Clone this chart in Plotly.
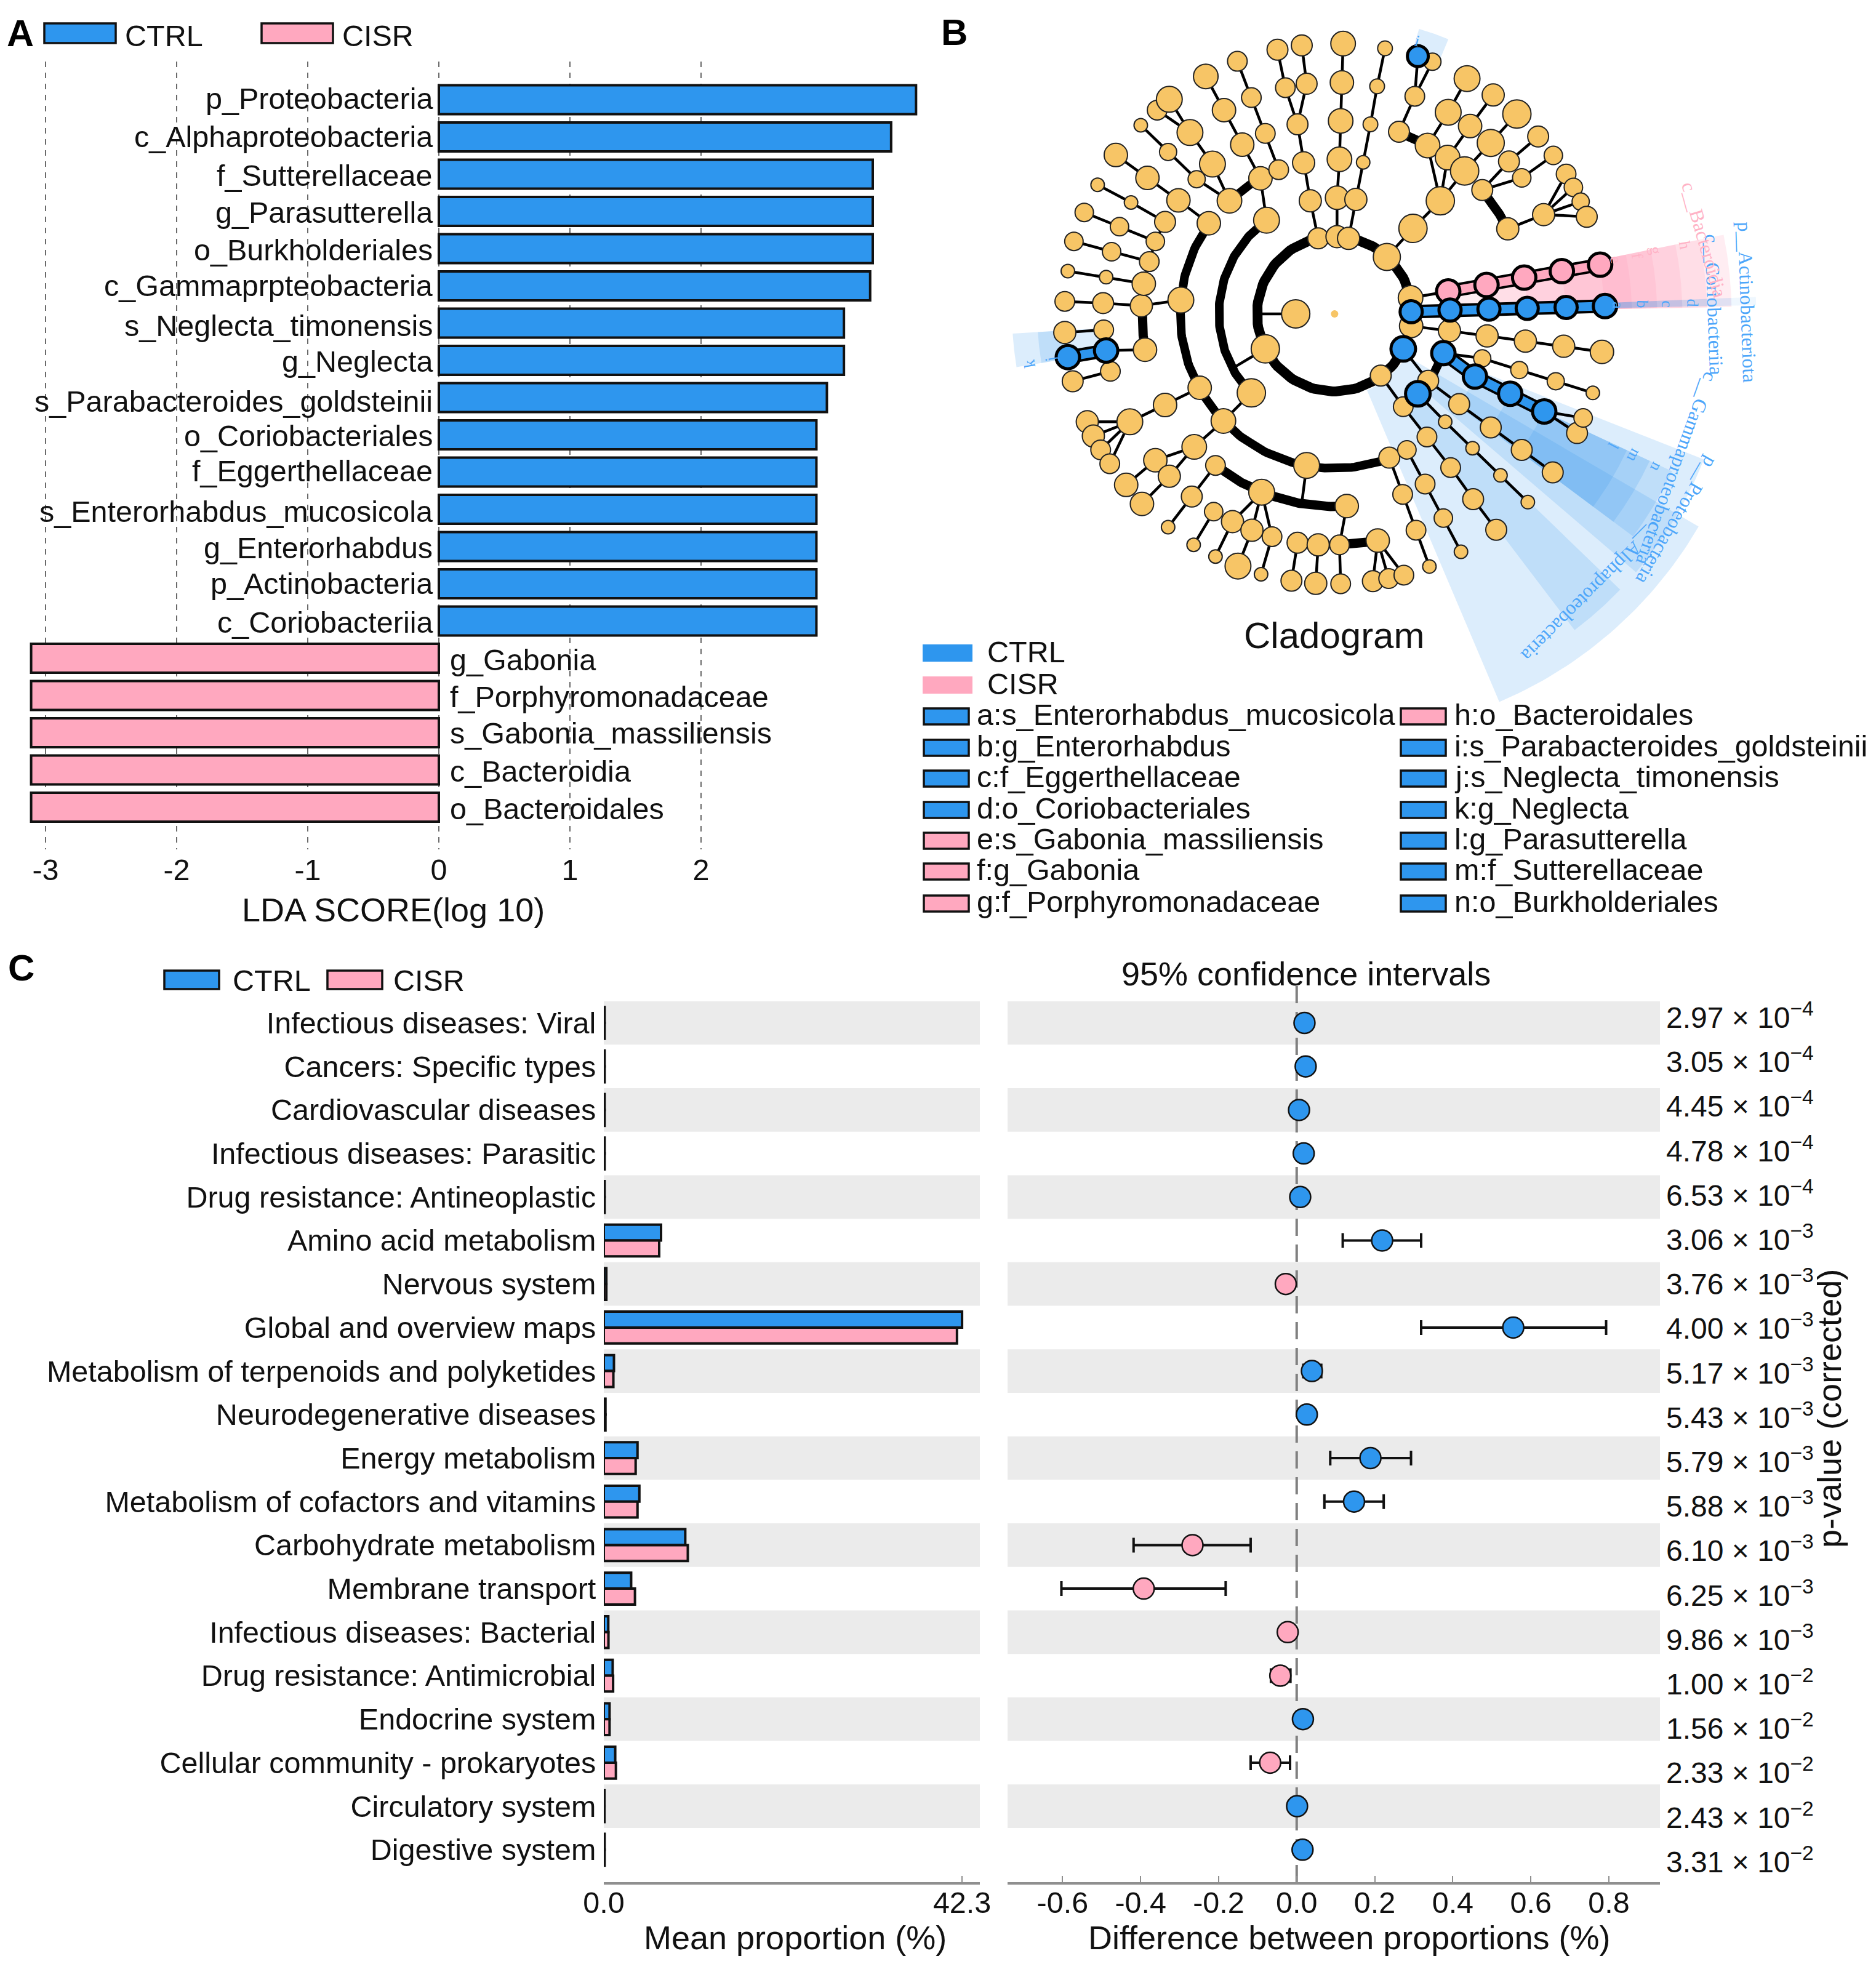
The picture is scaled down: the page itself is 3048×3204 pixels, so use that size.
import numpy as np
import plotly.graph_objects as go

W, H = 3048, 3204
BLUE = "#2E96EE"
PINK = "#FFA8BF"
GOLD = "#F7C566"
INK = "#111111"
FONT = "Liberation Sans"
SERIF = "Liberation Serif"
LABEL_BLUE = "#4DA6FA"
LABEL_PINK = "#FFB3C6"
TXT = 48.5
TITLE = 54

# ---------- Panel A data ----------
lda_names = ["p_Proteobacteria", "c_Alphaproteobacteria", "f_Sutterellaceae", "g_Parasutterella",
             "o_Burkholderiales", "c_Gammaprpteobacteria", "s_Neglecta_timonensis", "g_Neglecta",
             "s_Parabacteroides_goldsteinii", "o_Coriobacteriales", "f_Eggerthellaceae",
             "s_Enterorhabdus_mucosicola", "g_Enterorhabdus", "p_Actinobacteria", "c_Coriobacteriia",
             "g_Gabonia", "f_Porphyromonadaceae", "s_Gabonia_massiliensis", "c_Bacteroidia", "o_Bacteroidales"]
lda_scores = [3.64, 3.45, 3.31, 3.31, 3.31, 3.29, 3.09, 3.09, 2.96, 2.88, 2.88, 2.88, 2.88, 2.88, 2.88,
              -3.11, -3.11, -3.11, -3.11, -3.11]
lda_ticks = [-3, -2, -1, 0, 1, 2]
# hand-set vertical nudges of the labels, in pixels
lda_label_nudge = [-2, 0, 2, 2, 2, 0, 4, 2, 6, 2, -2, 4, 2, 0, 2, 2, 2, 0, 2, 2]

# ---------- Panel C data ----------
pathways = ["Infectious diseases: Viral", "Cancers: Specific types", "Cardiovascular diseases",
            "Infectious diseases: Parasitic", "Drug resistance: Antineoplastic", "Amino acid metabolism",
            "Nervous system", "Global and overview maps", "Metabolism of terpenoids and polyketides",
            "Neurodegenerative diseases", "Energy metabolism", "Metabolism of cofactors and vitamins",
            "Carbohydrate metabolism", "Membrane transport", "Infectious diseases: Bacterial",
            "Drug resistance: Antimicrobial", "Endocrine system", "Cellular community - prokaryotes",
            "Circulatory system", "Digestive system"]
mean_ctrl = [0.1, 0.1, 0.1, 0.1, 0.1, 6.76, 0.3, 42.3, 1.2, 0.2, 3.98, 4.2, 9.62, 3.23, 0.53, 1.05, 0.68, 1.35, 0.08, 0.1]
mean_cisr = [0.1, 0.1, 0.1, 0.1, 0.1, 6.54, 0.3, 41.7, 1.13, 0.2, 3.76, 3.98, 9.92, 3.68, 0.55, 1.1, 0.68, 1.43, 0.08, 0.1]
diff = [0.02, 0.023, 0.006, 0.018, 0.009, 0.219, -0.028, 0.555, 0.039, 0.026, 0.189, 0.147, -0.267, -0.392,
        -0.023, -0.042, 0.016, -0.068, 0.001, 0.015]
ci_low = [0.012, 0.015, -0.002, 0.01, 0.001, 0.118, -0.04, 0.319, 0.017, 0.016, 0.086, 0.071, -0.418, -0.603,
          -0.036, -0.066, 0.006, -0.118, -0.008, 0.005]
ci_high = [0.028, 0.031, 0.014, 0.026, 0.017, 0.319, -0.016, 0.793, 0.063, 0.036, 0.293, 0.223, -0.118, -0.182,
           -0.01, -0.016, 0.026, -0.017, 0.01, 0.025]
pvals = ["2.97", "3.05", "4.45", "4.78", "6.53", "3.06", "3.76", "4.00", "5.17", "5.43",
         "5.79", "5.88", "6.10", "6.25", "9.86", "1.00", "1.56", "2.33", "2.43", "3.31"]
pexps = ["4", "4", "4", "4", "4", "3", "3", "3", "3", "3", "3", "3", "3", "3", "3", "2", "2", "2", "2", "2"]
diff_ticks = [-0.6, -0.4, -0.2, 0.0, 0.2, 0.4, 0.6, 0.8]

# ---------- Panel B data: (x, y, diameter), outer node first ----------
gold_chains = [
    [(583,115,34),(596,203,32),(616,288,34),(626,377,36),(637,465,36),(650,552,34)],
    [(623,105,34),(631,194,34),(616,288,34)],
    [(691,101,40),(689,191,38),(687,280,40),(685,369,40),(681,458,38),(681,548,36)],
    [(760,112,24),(747,200,24),(736,288,24),(724,376,22),(712,462,36),(700,552,36)],
    [(838,143,28),(809,223,32),(783,305,34)],
    [(895,182,42),(864,260,42),(830,337,40),(851,465,46)],
    [(938,220,36),(900,292,38),(863,365,40),(851,465,46)],
    [(977,264,46),(934,331,44),(891,396,46),(851,465,46)],
    [(1012,316,34),(964,374,34),(920,440,34)],
    [(1037,360,30),(985,412,30),(920,440,34)],
    [(851,465,46),(806,529,46),(763,595,44)],
    [(1058,403,32),(1021,497,36)], [(1070,434,30),(1021,497,36)],
    [(1082,467,28),(1021,497,36)], [(1092,502,34),(1021,497,36)],
    [(1021,497,36),(962,530,36)],
    [(1117,815,38),(1054,802,36),(991,790,36),(928,778,36),(866,766,36),(803,755,38)],
    [(1102,910,22),(1041,883,28),(981,857,28),(920,830,28),(856,818,2)],
    [(1086,968,30),(1022,953,2)], [(1076,1003,34),(1022,953,2)],
    [(1036,1094,34),(985,1042,34),(934,990,34),(882,936,34),(831,882,34),(790,808,2)],
    [(943,1227,34),(905,1156,34),(868,1083,32),(829,1012,32),(790,942,32),(753,870,34)],
    [(995,1163,22),(950,1101,22),(904,1038,22),(859,977,22),(814,912,2)],
    [(885,1278,22),(856,1200,30),(826,1121,32),(796,1042,30),(767,1060,34)],
    [(833,1312,22),(811,1228,32),(789,1145,32),(767,1060,34)],
    [(606,1345,34),(616,1257,34)], [(646,1351,36),(650,1262,36)],
    [(687,1352,32),(685,1262,32),(697,1172,38)],
    [(740,1346,34),(748,1252,38)], [(766,1340,32),(748,1252,38)], [(791,1332,32),(748,1252,38)],
    [(518,1311,42),(541,1228,36),(557,1140,42)],
    [(556,1330,22),(574,1243,32),(557,1140,42)],
    [(481,1289,22),(509,1208,36),(557,1140,42)],
    [(445,1262,22),(478,1185,30)],
    [(403,1221,22),(442,1150,34),(481,1078,32)],
    [(360,1167,38),(405,1103,36),(446,1035,40),(494,975,40)],
    [(334,1123,38),(382,1066,38),(446,1035,40)],
    [(270,977,36),(340,977,42)], [(280,1010,36),(340,977,42)],
    [(292,1042,32),(340,977,42)], [(307,1074,32),(340,977,42)],
    [(340,977,42),(398,938,38),(455,898,38)],
    [(540,910,46),(494,975,40)],
    [(233,698,32),(296,702,34),(359,708,36),(424,695,42)],
    [(398,514,34),(382,559,30),(372,606,32),(363,657,38),(359,708,36)],
    [(238,628,22),(301,642,22),(363,657,38)],
    [(248,559,30),(310,583,30),(372,606,32)],
    [(265,492,30),(323,525,30),(382,559,30)],
    [(287,428,22),(342,469,22),(398,514,34)],
    [(317,359,38),(369,412,38),(420,464,38),(470,517,38)],
    [(358,290,22),(403,352,28),(450,415,28),(504,465,40)],
    [(405,230,42),(439,307,42),(476,380,42),(504,465,40)],
    [(385,255,32),(439,307,42)],
    [(465,177,40),(495,255,38),(525,335,38),(555,413,38),(565,510,42)],
    [(517,142,32),(540,226,32),(563,309,32),(585,393,32),(555,413,38)],
    [(233,770,36),(297,764,32),(301,812,2)],
    [(246,883,34),(308,860,32),(301,812,2)],
    [(301,812,2),(365,810,38)],
    [(802,690,40),(864,675,2)],
    [(767,1060,34),(767,1060,34)], [(631,1078,42),(623,1165,2)],
    [(563,808,46),(515,848,2)], [(613,727,46),(553,727,2)],
    [(809,223,32),(814,130,2)],
]
blue_chains = [
    [(1122,709,38),(1058,712,36),(994,714,36),(931,716,36),(867,718,36),(803,722,36)],
    [(238,827,38),(301,812,38)],
    [(1022,953,38),(966,912,38),(908,872,38),(856,818,38)],
]
blue_single = [(814,130,34), (790,808,40), (814,912,40)]
pink_chains = [[(1114,613,38),(1051,628,38),(989,643,38),(927,660,38),(864,675,38)]]
root_node = (677, 727, 12)

# thick arcs: radius, start angle, end angle, width
arc_r = [126, 188, 251, 251, 313, 313, 313, 313, 375, 188]
arc_a0 = [-12, 234, 215.8, 227, 128, 182.4, -70.5, -40, 88.8, 20]
arc_a1 = [-333, 136.5, 69, 241, 86, 169.3, -61, -26, 79.2, 53]
arc_w = [16, 14, 14, 14, 15, 15, 15, 15, 15, 14]

# highlighted clade sectors: r0, r1, angle0, angle1, group
sector_r0 = [135, 187, 187, 250, 313, 375, 187, 250, 313, 375, 438, 125, 187, 250, 313, 375, 438, 375, 438, 438]
sector_r1 = [685, 645, 645, 605, 565, 524, 645, 605, 565, 524, 483, 685, 645, 605, 565, 524, 483, 524, 483, 483]
sector_a0 = [30.3, 21.5, 44, 25, 25, 25, -11.5, -11.5, -11.5, -11.5, -11.5, -2.3, -2.3, -2.3, -2.3, -2.3, -2.3, 170.5, 170.5, -73.5]
sector_a1 = [67, 40.6, 52.8, 36.7, 36.7, 36.7, -1, -1, -1, -1, -1, -1.2, -1.2, -1.2, -1.2, -1.2, -1.2, 176.5, 176.5, -67.5]
sector_g = ["b"]*6 + ["p"]*5 + ["a"]*6 + ["b"]*3

clade_text = ["p__Actinobacteriota", "c__Coriobacteriia", "c__Bacteroidia", "c__Gammaproteobacteria",
              "p__Proteobacteria", "c__Alphaproteobacteria"]
clade_text_x = [1356, 1302, 1285, 1240, 1240, 1100]
clade_text_y = [700, 705, 555, 1085, 1205, 1370]
clade_text_a = [88, 88, 74, 110, 120, 135]
clade_text_c = [LABEL_BLUE, LABEL_BLUE, LABEL_PINK, LABEL_BLUE, LABEL_BLUE, LABEL_BLUE]
clade_size = [32, 32, 32, 32, 32, 32]

mini_text = ["a", "b", "c", "d", "e", "f", "g", "h", "i", "j", "k", "l", "m", "n"]
mini_x = [1143, 1183, 1224, 1266, 1140, 1175, 1205, 1253, 813, 210, 175, 1135, 1170, 1207]
mini_y = [708, 705, 705, 702, 602, 592, 580, 567, 95, 832, 842, 1032, 1055, 1082]
mini_a = [92, 92, 92, 92, 80, 80, 80, 80, 15, 260, 260, 118, 118, 118]
mini_c = [LABEL_BLUE]*4 + [LABEL_PINK]*4 + [LABEL_BLUE]*6

legend_left = ["a:s_Enterorhabdus_mucosicola", "b:g_Enterorhabdus", "c:f_Eggerthellaceae", "d:o_Coriobacteriales",
               "e:s_Gabonia_massiliensis", "f:g_Gabonia", "g:f_Porphyromonadaceae"]
legend_left_c = [BLUE, BLUE, BLUE, BLUE, PINK, PINK, PINK]
legend_right = ["h:o_Bacteroidales", "i:s_Parabacteroides_goldsteinii", "j:s_Neglecta_timonensis", "k:g_Neglecta",
                "l:g_Parasutterella", "m:f_Sutterellaceae", "n:o_Burkholderiales"]
legend_right_c = [PINK, BLUE, BLUE, BLUE, BLUE, BLUE, BLUE]
legend_rows = [1164, 1215, 1265, 1316, 1366, 1416, 1468]


# ---------- helpers ----------
def px(x):
    return x / W


def py(y):
    return 1 - y / H


def pos(r, a):
    t = np.radians(a)
    return 677 + 1.0129 * r * np.cos(t), 727 + 1.4255 * r * np.sin(t)


annotations = []
shapes = []


def label(x, y, text, size=TXT, anchor="left", color=INK, angle=0, family=FONT, bold=False):
    annotations.append(dict(
        x=px(x), y=py(y), xref="paper", yref="paper", text=f"<b>{text}</b>" if bold else text,
        showarrow=False, xanchor=anchor, yanchor="middle", textangle=angle,
        font=dict(family=family, size=size, color=color), borderpad=0))


def swatch(x0, y0, x1, y1, fill, lw=3.5):
    shapes.append(dict(type="rect", xref="paper", yref="paper", x0=px(x0), x1=px(x1), y0=py(y0), y1=py(y1),
                       fillcolor=fill, line=dict(color="#111" if lw else fill, width=lw)))


fig = go.Figure()

# ---------- Panel A ----------
a_rows = list(range(len(lda_names)))
fig.add_trace(go.Bar(x=lda_scores, y=a_rows, orientation="h", width=0.78, xaxis="x", yaxis="y",
                     marker=dict(color=[BLUE if v > 0 else PINK for v in lda_scores], line=dict(color="#111", width=4)),
                     showlegend=False, hoverinfo="skip"))
for i, (n, v, dy) in enumerate(zip(lda_names, lda_scores, lda_label_nudge)):
    annotations.append(dict(x=0, y=i, xref="x", yref="y", text=n, showarrow=False,
                            xanchor="right" if v > 0 else "left", yanchor="middle",
                            xshift=-8 if v > 0 else 16, yshift=-dy, font=dict(family=FONT, size=TXT, color=INK)))

A_L, A_R = 713 - 3.13 * 213, 713 + 3.66 * 213
A_T, A_B = 100, 1380
row0, pitch = 162, 60.5

# ---------- Panel C ----------
c_rows = list(range(len(pathways)))
fig.add_trace(go.Bar(x=mean_ctrl, y=c_rows, orientation="h", xaxis="x2", yaxis="y2", name="CTRL",
                     marker=dict(color=BLUE, line=dict(color="#111", width=4)), showlegend=False, hoverinfo="skip"))
fig.add_trace(go.Bar(x=mean_cisr, y=c_rows, orientation="h", xaxis="x2", yaxis="y2", name="CISR",
                     marker=dict(color=PINK, line=dict(color="#111", width=4)), showlegend=False, hoverinfo="skip"))
fig.add_trace(go.Scatter(x=diff, y=c_rows, mode="markers", xaxis="x3", yaxis="y3", showlegend=False, hoverinfo="skip",
                         marker=dict(size=34, opacity=1, color=[BLUE if d > 0 else PINK for d in diff],
                                     line=dict(color="#111", width=2.5)),
                         error_x=dict(type="data", symmetric=False,
                                      array=[h - d for h, d in zip(ci_high, diff)],
                                      arrayminus=[d - l for l, d in zip(ci_low, diff)],
                                      color="#111", thickness=4, width=12)))
C_T, C_B = 1590, 3058
c_row0, c_pitch = 1662, 70.7
c_range = [(C_B - c_row0) / c_pitch, (C_T - c_row0) / c_pitch]
for i in range(0, len(pathways), 2):
    for xr, x0, x1 in (("x2", 0, 44.4), ("x3", -0.741, 0.931)):
        shapes.append(dict(type="rect", xref=xr, yref="y2", x0=x0, x1=x1, y0=i - 0.5, y1=i + 0.5,
                           fillcolor="#EBEBEB", line=dict(width=0), layer="below"))
shapes.append(dict(type="line", xref="x3", yref="y3", x0=0, x1=0, y0=-0.85, y1=c_range[0],
                   line=dict(color="#808080", width=4, dash="28px,14px"), layer="below"))

# ---------- Panel B ----------
for r0, r1, a0, a1, g in zip(sector_r0, sector_r1, sector_a0, sector_a1, sector_g):
    t = np.linspace(a0, a1, 40)
    xo, yo = pos(r1, t)
    xi, yi = pos(r0, t[::-1])
    col = {"b": "rgba(46,150,238,0.17)", "a": "rgba(46,150,238,0.08)", "p": "rgba(255,150,180,0.17)"}[g]
    fig.add_trace(go.Scatter(x=np.r_[xo, xi], y=np.r_[yo, yi], mode="lines", fill="toself", fillcolor=col,
                             line=dict(width=0), xaxis="x4", yaxis="y4", showlegend=False, hoverinfo="skip"))

for r, a0, a1, w in zip(arc_r, arc_a0, arc_a1, arc_w):
    t = np.linspace(a0, a1, 120)
    xa, ya = pos(r, t)
    fig.add_trace(go.Scatter(x=xa, y=ya, mode="lines", line=dict(color="#000", width=w), xaxis="x4", yaxis="y4",
                             showlegend=False, hoverinfo="skip"))


def chain_line(chains, color, width):
    xs, ys = [], []
    for ch in chains:
        xs += [p[0] for p in ch] + [None]
        ys += [p[1] for p in ch] + [None]
    fig.add_trace(go.Scatter(x=xs, y=ys, mode="lines", line=dict(color=color, width=width), xaxis="x4", yaxis="y4",
                             showlegend=False, hoverinfo="skip"))


def nodes(points, color, lw):
    pts = sorted({p for p in points if p[2] > 5}, key=lambda p: (p[0], p[1]))
    fig.add_trace(go.Scatter(x=[p[0] for p in pts], y=[p[1] for p in pts], mode="markers", xaxis="x4", yaxis="y4",
                             marker=dict(size=[p[2] for p in pts], color=color, opacity=1,
                                         line=dict(color="#222" if lw < 4 else "#000", width=lw)),
                             showlegend=False, hoverinfo="skip"))


chain_line(gold_chains, "#000", 4.5)
nodes([p for ch in gold_chains for p in ch], GOLD, 2)
fig.add_trace(go.Scatter(x=[root_node[0]], y=[root_node[1]], mode="markers", xaxis="x4", yaxis="y4",
                         marker=dict(size=root_node[2], color=GOLD, opacity=1, line=dict(width=0)),
                         showlegend=False, hoverinfo="skip"))
chain_line(pink_chains, "#000", 22)
chain_line(pink_chains, PINK, 14)
nodes([p for ch in pink_chains for p in ch], PINK, 5)
chain_line(blue_chains, "#000", 22)
chain_line(blue_chains, BLUE, 14)
nodes([p for ch in blue_chains for p in ch] + blue_single, BLUE, 5)

for t, x, y, a, c, s in zip(clade_text, clade_text_x, clade_text_y, clade_text_a, clade_text_c, clade_size):
    annotations.append(dict(x=x, y=y, xref="x4", yref="y4", text=t, showarrow=False, textangle=a,
                            font=dict(family=SERIF, size=s, color=c)))
for t, x, y, a, c in zip(mini_text, mini_x, mini_y, mini_a, mini_c):
    annotations.append(dict(x=x, y=y, xref="x4", yref="y4", text=t, showarrow=False, textangle=a,
                            font=dict(family=SERIF, size=26, color=c)))

# ---------- static text and legends ----------
label(10, 54, "A", 61, bold=True, color="#000")
label(1528, 53, "B", 60, bold=True, color="#000")
label(12, 1573, "C", 60, bold=True, color="#000")

swatch(72, 38, 188, 70, BLUE)
label(202, 58, "CTRL")
swatch(425, 38, 541, 70, PINK)
label(555, 58, "CISR")
label(639, 1478, "LDA SCORE(log 10)", TITLE, "center")

label(2167, 1033, "Cladogram", 60, "center")
swatch(1499, 1047, 1580, 1075, BLUE, 0)
label(1603, 1059, "CTRL")
swatch(1499, 1099, 1580, 1127, PINK, 0)
label(1603, 1111, "CISR")
for y, t, c in zip(legend_rows, legend_left, legend_left_c):
    swatch(1501, y - 13, 1574, y + 13, c)
    label(1586, y - 3, t)
for y, t, c in zip(legend_rows, legend_right, legend_right_c):
    swatch(2276, y - 13, 2349, y + 13, c)
    label(2362, y - 3, t)

swatch(267, 1577, 356, 1607, BLUE)
label(377, 1593, "CTRL")
swatch(532, 1577, 621, 1607, PINK)
label(638, 1593, "CISR")
label(2122, 1582, "95% confidence intervals", TITLE, "center")
label(1292, 3148, "Mean proportion (%)", TITLE, "center")
label(2192, 3148, "Difference between proportions (%)", TITLE, "center")
label(2972, 2289, "p-value (corrected)", TITLE, "center", angle=-90)
for i, (p, e) in enumerate(zip(pvals, pexps)):
    label(2706, 1650 + i * 72.2, f"{p} × 10<sup>−{e}</sup>", 48)

axis_font = dict(family=FONT, size=TXT, color=INK)
hidden = dict(visible=False, fixedrange=True)
fig.update_layout(
    width=W, height=H, margin=dict(l=0, r=0, t=0, b=0, pad=0, autoexpand=False), autosize=False,
    paper_bgcolor="white", plot_bgcolor="rgba(0,0,0,0)",
    barmode="group", bargap=0.27, bargroupgap=0,
    annotations=annotations, shapes=shapes,
    xaxis=dict(domain=[px(A_L), px(A_R)], range=[-3.13, 3.66], anchor="y", tickvals=lda_ticks,
               ticktext=[str(v) for v in lda_ticks], showgrid=True, griddash="dash",
               gridcolor="#6a6a6a", gridwidth=2, zeroline=False, showline=False, ticks="", tickfont=axis_font,
               automargin=False),
    yaxis=dict(domain=[py(A_B), py(A_T)], range=[(A_B - row0) / pitch, (A_T - row0) / pitch], anchor="x",
               visible=False),
    xaxis2=dict(domain=[px(981), px(1592)], range=[0, 44.4], anchor="y2", tickvals=[0, 42.3],
                ticktext=["0.0", "42.3"], showgrid=False, zeroline=False, showline=True, linecolor="#8f8f8f",
                linewidth=4, ticks="inside", ticklen=10, tickcolor="#8f8f8f", tickwidth=2, tickfont=axis_font,
                ticklabelstandoff=-12, automargin=False),
    yaxis2=dict(domain=[py(C_B), py(C_T)], range=c_range, anchor="x2", tickvals=c_rows, ticktext=pathways,
                showgrid=False, zeroline=False, showline=False, ticks="outside", ticklen=2, tickcolor="rgba(0,0,0,0)",
                tickfont=axis_font, automargin=False),
    xaxis3=dict(domain=[px(1637), px(2697)], range=[-0.741, 0.931], anchor="y3", tickvals=diff_ticks,
                ticktext=[f"{v:.1f}" for v in diff_ticks], showgrid=False, zeroline=False, showline=True,
                linecolor="#8f8f8f", linewidth=4, ticks="inside", ticklen=10, tickcolor="#8f8f8f", tickwidth=2,
                tickfont=axis_font, ticklabelstandoff=-12, automargin=False),
    yaxis3=dict(domain=[py(C_B), py(C_T)], range=c_range, anchor="x3", visible=False),
    xaxis4=dict(domain=[px(1500), px(3048)], range=[0, 1568], anchor="y4", **hidden),
    yaxis4=dict(domain=[py(1200), py(0)], range=[1200 * 1.4255, 0], anchor="x4", **hidden),
)
fig.write_html("out.html", config={"displayModeBar": False},
               post_script="document.body.style.margin='0';document.documentElement.style.overflow='hidden';")
